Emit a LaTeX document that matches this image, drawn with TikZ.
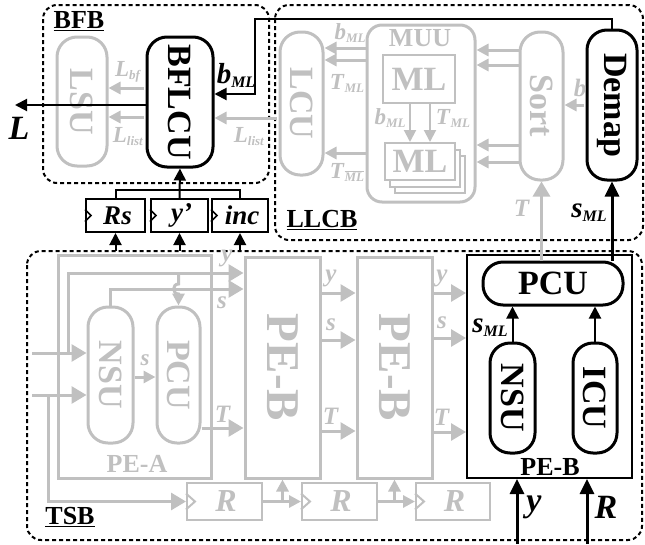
\documentclass[tikz,border=0pt]{standalone}
\usepackage{fontspec}
\setmainfont{Liberation Serif}
\usetikzlibrary{arrows.meta}
\definecolor{gr}{RGB}{192,192,192}
\newcommand\fs[1]{\fontsize{#1}{#1}\selectfont}
\newcommand\blab[2]{{\fs{29}\textit{#1}}\raisebox{-4pt}{\fs{16}\textit{#2}}}
\newcommand\glab[2]{{\fs{23}\textit{#1}}\raisebox{-3pt}{\fs{13}\textit{#2}}}
\tikzset{
 every node/.style={inner sep=0pt, font=\bfseries},
 gcap/.style={draw=gr, line width=3pt, rounded corners=20pt},
 bcap/.style={draw=black, line width=3pt, rounded corners=20pt},
 gbox/.style={draw=gr, line width=3pt},
 gln/.style={draw=gr, line width=3pt},
 garr/.style={draw=gr, line width=3pt, -{Triangle[length=15pt,width=17pt]}},
 garrs/.style={draw=gr, line width=3pt, -{Triangle[length=12pt,width=12pt]}},
 barr/.style={line width=2pt, -{Triangle[length=12pt,width=12pt]}},
 bthk/.style={line width=3pt, -{Triangle[length=15pt,width=14pt]}},
 dbox/.style={line width=2pt, dash pattern=on 4pt off 3pt, rounded corners=14pt},
 reg/.style={draw, line width=2pt, minimum width=57pt, minimum height=33pt, font=\bfseries\itshape\fs{27}},
 greg/.style={draw=gr, line width=2pt, minimum height=37pt, text=gr, font=\bfseries\itshape\fs{32}},
 glabel/.style={text=gr},
 glt/.style={rotate=-90, text=gr, font=\bfseries\fs{34}},
 blt/.style={rotate=-90, font=\bfseries\fs{34}},
}
\begin{document}
\begin{tikzpicture}[x=1pt,y=-1pt]
\useasboundingbox (0,0) rectangle (645,544);
% dashed blocks
\draw[dbox] (43,5) rectangle (269,183);
\draw[dbox] (275,5) rectangle (643,240);
\draw[dbox] (27,251) rectangle (642,540);
\node[font=\bfseries\fs{26}] (bfbl) at (79,21) {\underline{BFB}};
\node[font=\bfseries\fs{26}] (llcbl) at (322,220) {\underline{LLCB}};
\node[font=\bfseries\fs{26}] (tsbl) at (70,517) {\underline{TSB}};

% ---------- BFB ----------
\node[gcap, minimum width=50pt, minimum height=129pt, label={[glt]center:LSU}] (lsu) at (82,101.5) {};
\node[bcap, minimum width=66pt, minimum height=130pt, label={[blt]center:BFLCU}] (bflcu) at (180,102) {};
\draw[garrs, shorten <=1.5pt] (bflcu.west |- 0,88) -- (lsu.east |- 0,88);
\draw[garrs, shorten <=1.5pt] (bflcu.west |- 0,117) -- (lsu.east |- 0,117);
\node[glabel] (lbf) at (128,72) {\glab{L}{bf}};
\node[glabel] (llist1) at (128,137) {\glab{L}{list}};
\coordinate (Lend) at (15,105);
\draw[barr] (bflcu.west |- Lend) -- (Lend);
\node (Ll) at (19,128) {\fs{34}\textit{L}};

% ---------- LLCB ----------
\node[gcap, minimum width=43pt, minimum height=143pt, label={[glt]center:LCU}] (lcu) at (301.5,103.5) {};
\node[gbox, rounded corners=15pt, minimum width=108pt, minimum height=177pt] (muu) at (421,113.5) {};
\node[text=gr, font=\bfseries\fs{26}] (muul) at (420,38) {MUU};
\node[gbox, line width=2pt, minimum width=72pt, minimum height=48pt, text=gr, font=\bfseries\fs{34}] (ml1) at (419,79) {ML};
\node[gbox, line width=2pt, fill=white, minimum width=70pt, minimum height=37pt] (mlc) at (430,174.5) {};
\node[gbox, line width=2pt, fill=white, minimum width=70pt, minimum height=37pt] (mlb) at (425,168) {};
\node[gbox, line width=2pt, fill=white, minimum width=70pt, minimum height=37pt, text=gr, font=\bfseries\fs{34}] (mla) at (420,161.5) {ML};
\draw[garrs, line width=2pt] (ml1.south -| 410,0) -- (mla.north -| 410,0);
\draw[garrs, line width=2pt] (ml1.south -| 430,0) -- (mla.north -| 430,0);
\node[glabel] (bml2) at (390,118) {\glab{b}{ML}};
\node[glabel] (tml2) at (453,118) {\glab{T}{ML}};
\foreach \yy in {48,60,153} \draw[garrs] (muu.west |- 0,\yy) -- (lcu.east |- 0,\yy);
\node[glabel] (bml1) at (350,33) {\glab{b}{ML}};
\node[glabel] (tml1) at (347,83) {\glab{T}{ML}};
\node[glabel] (tmlb) at (347,172) {\glab{T}{$\overline{\hbox{\fs{13}\bfseries\itshape ML}}$}};
\node[gcap, minimum width=43pt, minimum height=148pt, label={[glt]center:Sort}] (sort) at (541.5,106) {};
\foreach \yy in {50,65,145,162} \draw[garrs] (sort.west |- 0,\yy) -- (muu.east |- 0,\yy);
\node[bcap, minimum width=50pt, minimum height=150pt, label={[blt]center:Demap}] (demap) at (612,105) {};
\draw[garrs, shorten <=1.5pt] (demap.west |- 0,105) -- (sort.east |- 0,105);
\node[glabel] (bl) at (580,88) {\fs{25}\textit{b}};
\coordinate (bc) at (255,19);
\draw[barr] (demap.north) |- (bc) |- (bflcu.east |- 0,94);
\node (bmlk) at (236,75) {\blab{b}{ML}};
\draw[garrs, shorten <=1.5pt] (lcu.west |- 0,118) -- (bflcu.east |- 0,118);
\node[glabel] (llist2) at (249,137) {\glab{L}{list}};

% ---------- registers ----------
\node[reg, minimum width=59pt] (rs) at (115.5,215.5) {\hspace{4pt}Rs};
\node[reg] (yp) at (179.5,215.5) {\hspace{4pt}y’};
\node[reg, minimum width=56pt] (inc) at (240,215.5) {\hspace{4pt}inc};
\foreach \r in {rs,yp,inc} \draw[line width=1.5pt] ([yshift=6pt]\r.west) -- ++(6,6) -- ++(-6,6);
\coordinate (jn) at (179.5,190);
\draw[line width=2pt] (rs.north) |- (jn) -| (inc.north);
\draw[barr] (yp.north) -- (bflcu.south);
\foreach \r in {rs,yp,inc} \draw[barr] (\r.south |- 0,251) -- (\r.south);

% ---------- TSB ----------
\node[gbox, minimum width=75pt, minimum height=221pt, label={[rotate=-90,text=gr,font=\bfseries\fs{47}]center:PE-B}] (peb1) at (282.5,367.5) {};
\node[gbox, minimum width=75pt, minimum height=221pt, label={[rotate=-90,text=gr,font=\bfseries\fs{47}]center:PE-B}] (peb2) at (394.5,367.5) {};
\node[greg, minimum width=75pt] (r1) at (224.5,501.5) {\hspace{3pt}R};
\node[greg, minimum width=75pt] (r2) at (339.5,501.5) {\hspace{3pt}R};
\node[greg, minimum width=74pt] (r3) at (453,501.5) {\hspace{3pt}R};
\foreach \r in {r1,r2,r3} \draw[gr, line width=2pt] ([yshift=8pt]\r.west) -- ++(9,8) -- ++(-9,8);
\draw[garrs] (r1.east) -- (r2.west);
\draw[garrs] (r2.east) -- (r3.west);
\draw[garrs] (peb1.south |- r1.east) -- (peb1.south);
\draw[garrs] (peb2.south |- r2.east) -- (peb2.south);

\node[gbox, minimum width=153pt, minimum height=223pt] (pea) at (134.5,366.5) {};
\node[text=gr, font=\bfseries\fs{26}] (peal) at (137,464) {PE-A};
\node[gcap, minimum width=45pt, minimum height=136pt, label={[glt]center:NSU}] (nsua) at (110.5,375) {};
\node[gcap, minimum width=43pt, minimum height=136pt, label={[glt]center:PCU}] (pcua) at (178.5,375) {};
\coordinate (i1) at (32,353);
\coordinate (i2) at (32,395);
\coordinate (j1) at (68,353);
\coordinate (j2) at (48,395);
\coordinate (j3) at (178.5,273);
\draw[garr] (i1) -- (nsua.west |- i1);
\draw[garr] (i2) -- (nsua.west |- i2);
\draw[garr] (j1) |- (peb1.west |- 0,273);
\draw[garr] (j2) |- (r1.west);
\draw[garr] (nsua.north) |- (peb1.west |- 0,289);
\draw[garrs] (j3) -- (178.5,284) .. controls (172,284) and (172,294) .. (178.5,294) -- (pcua.north);
\draw[garrs] (nsua.east |- 0,377) -- (pcua.west |- 0,377);
\node[glabel] (sa) at (145,360) {\fs{23}\textit{s}};
\draw[garr] (pcua.east |- 0,428) -- (peb1.west |- 0,428);
\node[glabel] (ya1) at (227,258) {\fs{25}\textit{y}};
\node[glabel] (sa1) at (222,303) {\fs{25}\textit{s}};
\node[glabel] (ta1) at (223,414) {\fs{25}\textit{T}};
\foreach \yy/\t in {293/y,340/s,431/T} {
  \draw[garr] (peb1.east |- 0,\yy) -- (peb2.west |- 0,\yy);
  \node[glabel] at (331,\yy-15) {\fs{25}\textit{\t}};
}

% black PE-B
\node[draw, line width=2pt, minimum width=165pt, minimum height=223pt] (pebk) at (549.5,366.5) {};
\node[font=\bfseries\fs{26}] (pebkl) at (550,467) {PE-B};
\foreach \yy/\t in {293/y,338/s,432/T} {
  \draw[garr] (peb2.east |- 0,\yy) -- (pebk.west |- 0,\yy);
  \node[glabel] at (442,\yy-15) {\fs{25}\textit{\t}};
}
\node[bcap, minimum width=140pt, minimum height=43pt, font=\bfseries\fs{34}] (pcub) at (553,283.5) {PCU};
\node[bcap, minimum width=45pt, minimum height=110pt, label={[blt]center:NSU}] (nsub) at (512.5,398) {};
\node[bcap, minimum width=44pt, minimum height=110pt, label={[blt]center:ICU}] (icub) at (595,398) {};
\draw[barr] (nsub.north) -- (nsub.north |- pcub.south);
\draw[barr] (icub.north) -- (icub.north |- pcub.south);
\node (smlk) at (490,328) {\blab{s}{ML}};
\coordinate (yin) at (517,544);
\coordinate (rin) at (587,544);
\draw[bthk] (yin) -- (yin |- pebk.south);
\draw[bthk] (rin) -- (rin |- pebk.south);
\node (yl) at (534,507) {\fs{34}\textit{y}};
\node (rl) at (606,507) {\fs{34}\textit{R}};
\draw[garr] (sort.south |- pcub.north) -- (sort.south);
\node[glabel] (tl) at (522,208) {\fs{25}\textit{T}};
\draw[bthk] (demap.south |- pcub.north) -- (demap.south);
\node (smlk2) at (589,213) {\blab{s}{ML}};
\end{tikzpicture}
\end{document}
